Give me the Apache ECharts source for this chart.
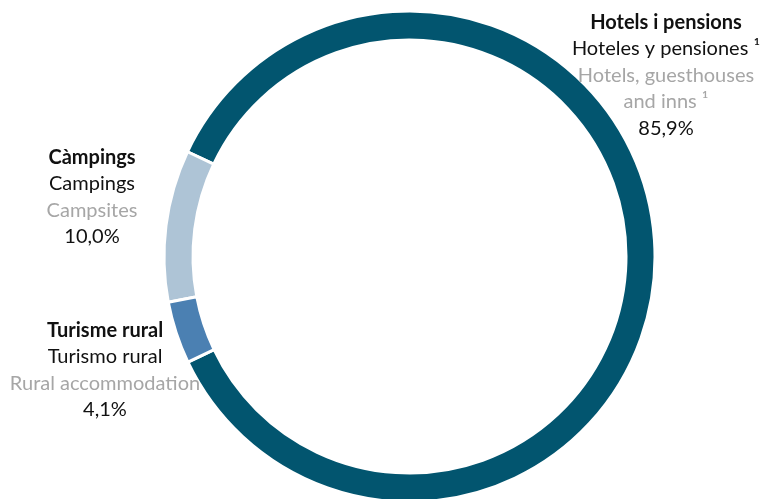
<!DOCTYPE html>
<html>
<head>
<meta charset="utf-8">
<script src="https://cdn.jsdelivr.net/npm/echarts@6/dist/echarts.min.js"></script>
<style>
html,body{margin:0;padding:0;background:#fff;}
#chart{width:760px;height:499px;}
</style>
</head>
<body>
<div id="chart"></div>
<script>
const namesCa = ['Hotels i pensions', 'Càmpings', 'Turisme rural'];
const namesEs = ['Hoteles y pensiones ¹', 'Campings', 'Turismo rural'];
const namesEn = ['Hotels, guesthouses\nand inns ¹', 'Campsites', 'Rural accommodation'];
const shares = [85.9, 10.0, 4.1];
const colors = ['#02556f', '#aec4d6', '#4b80b2'];

const labelPos = [
  {x: 666, y: 9},
  {x: 92, y: 144},
  {x: 105, y: 317}
];

const chart = echarts.init(document.getElementById('chart'));
const fontFamily = 'Lato, "Open Sans", sans-serif';
const fs = 20, lh = 26.5;

chart.setOption({
  animation: false,
  series: [{
    type: 'pie',
    center: [409.5, 256.5],
    radius: [216.5, 245.5],
    startAngle: 205.5,
    clockwise: false,
    avoidLabelOverlap: false,
    itemStyle: {borderColor: '#ffffff', borderWidth: 3},
    labelLine: {show: false},
    emphasis: {disabled: true},
    label: {
      show: true,
      position: 'outside',
      formatter: function (p) {
        const i = p.dataIndex;
        const en = namesEn[i].split('\n').map(s => '{e|' + s + '}').join('\n');
        return '{c|' + namesCa[i] + '}\n{s|' + namesEs[i] + '}\n' + en + '\n{p|' +
          shares[i].toFixed(1).replace('.', ',') + '%}';
      },
      rich: {
        c: {fontFamily, fontSize: fs, lineHeight: lh, fontWeight: 'bold', color: '#111', align: 'center'},
        s: {fontFamily, fontSize: fs, lineHeight: lh, color: '#111', align: 'center'},
        e: {fontFamily, fontSize: fs, lineHeight: lh, color: '#a6a6a6', align: 'center'},
        p: {fontFamily, fontSize: fs, lineHeight: lh, color: '#111', align: 'center'}
      }
    },
    labelLayout: function (params) {
      const pos = labelPos[params.dataIndex];
      return {x: pos.x, y: pos.y, align: 'center', verticalAlign: 'top'};
    },
    data: shares.map((v, i) => ({value: v, name: namesCa[i], itemStyle: {color: colors[i]}}))
  }]
});
</script>
</body>
</html>
